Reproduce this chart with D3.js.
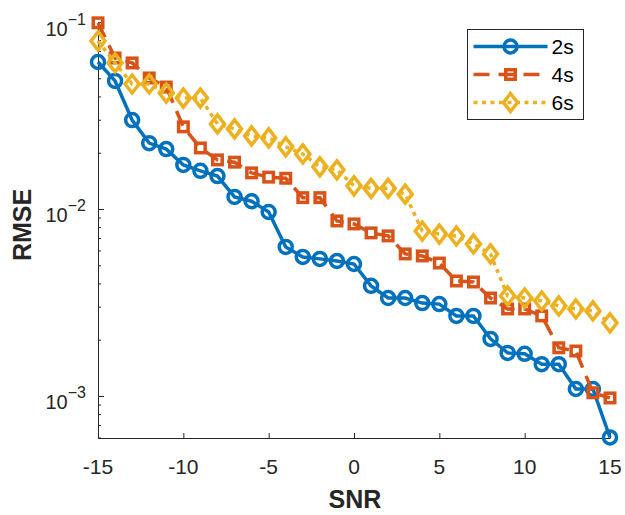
<!DOCTYPE html>
<html>
<head>
<meta charset="utf-8">
<script src="https://cdn.jsdelivr.net/npm/d3@7"></script>
<style>
  body { margin: 0; background: #fff; }
  svg { display: block; font-family: "Liberation Sans", Arial, sans-serif; }
</style>
</head>
<body>
<svg id="chart" width="625" height="515"></svg>
<script>
// Data
const snr = d3.range(-15, 16);

const rmse2s = [0.0611, 0.0484, 0.0299, 0.0225, 0.0209, 0.0172, 0.0160, 0.0150, 0.0116, 0.0110,
  0.00964, 0.00627, 0.00554, 0.00541, 0.00527, 0.00508, 0.00388, 0.00334, 0.00334, 0.00314,
  0.00310, 0.00268, 0.00268, 0.00202, 0.00170, 0.00168, 0.00148, 0.00148, 0.00109, 0.00109, 0.000600];

const rmse4s = [0.0990, 0.0642, 0.0604, 0.0502, 0.0449, 0.0275, 0.0212, 0.0183, 0.0178, 0.0156,
  0.0148, 0.0146, 0.0115, 0.0115, 0.00863, 0.00832, 0.00745, 0.00718, 0.00575, 0.00561,
  0.00514, 0.00412, 0.00407, 0.00334, 0.00292, 0.00292, 0.00268, 0.00181, 0.00174, 0.00104, 0.000976];

const rmse6s = [0.0791, 0.0604, 0.0466, 0.0466, 0.0417, 0.0392, 0.0392, 0.0285, 0.0268, 0.0246,
  0.0240, 0.0215, 0.0197, 0.0168, 0.0162, 0.0133, 0.0129, 0.0129, 0.0120, 0.00762,
  0.00734, 0.00717, 0.00650, 0.00575, 0.00343, 0.00334, 0.00322, 0.00303, 0.00292, 0.00285, 0.00246];

const seriesNames = ["2s", "4s", "6s"];
const xTicks = [-15, -10, -5, 0, 5, 10, 15];
const yMajor = [1e-3, 1e-2, 1e-1];
const yExp = [-3, -2, -1];

// Series styling (MATLAB default colours)
const series = [
  { name: seriesNames[0], values: rmse2s, color: "#0072BD", dash: null, marker: "circle" },
  { name: seriesNames[1], values: rmse4s, color: "#D95319", dash: "16,9", marker: "square" },
  { name: seriesNames[2], values: rmse6s, color: "#EDB120", dash: "4,4.5", marker: "diamond" }
];

const svg = d3.select("#chart");
const axisColor = "#262626";

const xScale = d3.scaleLinear().domain([-15, 15]).range([98, 610]);
const yScale = d3.scaleLog().domain([0.000596, 0.1]).range([438, 22]);

// Minor log ticks: 2..9 per decade inside the domain
const yMinor = [];
[1e-4, 1e-3, 1e-2].forEach(dec => {
  d3.range(2, 10).forEach(m => {
    const v = m * dec;
    if (v >= yScale.domain()[0] && v <= yScale.domain()[1]) yMinor.push(v);
  });
});

// X axis (ticks pointing inward)
const xAxisG = svg.append("g")
  .attr("transform", `translate(0, ${yScale.range()[0]})`)
  .call(d3.axisBottom(xScale).tickValues(xTicks).tickSizeInner(-5).tickSizeOuter(0).tickFormat(""));
xAxisG.select(".domain").attr("stroke", axisColor).attr("stroke-width", 1);
xAxisG.selectAll(".tick line").attr("stroke", axisColor);

svg.append("g").selectAll("text")
  .data(xTicks)
  .join("text")
    .attr("x", d => xScale(d))
    .attr("y", 474)
    .attr("text-anchor", "middle")
    .attr("font-size", 21)
    .attr("fill", axisColor)
    .text(d => d);

// Y axis (log, minor + major ticks pointing inward)
const yAxisG = svg.append("g")
  .attr("transform", `translate(${xScale.range()[0]}, 0)`)
  .call(d3.axisLeft(yScale).tickValues(yMajor.concat(yMinor)).tickSizeInner(-3).tickSizeOuter(0).tickFormat(""));
yAxisG.select(".domain").attr("stroke", axisColor).attr("stroke-width", 1);
yAxisG.selectAll(".tick line")
  .attr("stroke", axisColor)
  .attr("x2", d => yMajor.includes(d) ? 6 : 3);

// 10^n labels, superscript uses a real minus sign like MATLAB's tex
const yLabels = svg.append("g").selectAll("text")
  .data(yMajor)
  .join("text")
    .attr("x", 86)
    .attr("y", d => yScale(d) + 13.5)
    .attr("text-anchor", "end")
    .attr("fill", axisColor);
yLabels.append("tspan").attr("font-size", 20).text("10");
yLabels.append("tspan")
  .attr("font-size", 16)
  .attr("dy", -11)
  .text((d, i) => `\u2212${-yExp[i]}`);

// Axis titles
svg.append("text")
  .attr("x", 355).attr("y", 508)
  .attr("text-anchor", "middle")
  .attr("font-size", 25).attr("font-weight", "bold")
  .attr("fill", axisColor)
  .text("SNR");

svg.append("text")
  .attr("transform", "translate(31, 225) rotate(-90)")
  .attr("text-anchor", "middle")
  .attr("font-size", 25).attr("font-weight", "bold")
  .attr("fill", axisColor)
  .text("RMSE");

// Marker drawing helper
function drawMarker(sel, type, color) {
  if (type === "circle") {
    sel.append("circle").attr("r", 6.5);
  } else if (type === "square") {
    sel.append("rect").attr("x", -4.75).attr("y", -4.75).attr("width", 9.5).attr("height", 9.5);
  } else {
    sel.append("path").attr("d", "M0,-9L7,0L0,9L-7,0Z");
  }
  sel.selectAll("circle, rect, path")
    .attr("fill", "none")
    .attr("stroke", color)
    .attr("stroke-width", 3.5);
}

const line = d3.line()
  .x((d, i) => xScale(snr[i]))
  .y(d => yScale(d));

// Lines + markers, blue first so yellow lands on top
series.forEach(s => {
  const g = svg.append("g");
  g.append("path")
    .attr("d", line(s.values))
    .attr("fill", "none")
    .attr("stroke", s.color)
    .attr("stroke-width", 3.5)
    .attr("stroke-dasharray", s.dash);

  g.selectAll(".mk")
    .data(s.values)
    .join("g")
      .attr("class", "mk")
      .attr("transform", (d, i) => `translate(${xScale(snr[i])}, ${yScale(d)})`)
      .each(function () { drawMarker(d3.select(this), s.marker, s.color); });
});

// Legend
const legend = svg.append("g").attr("transform", "translate(467.5, 29.5)");
legend.append("rect")
  .attr("width", 116).attr("height", 90)
  .attr("fill", "#fff")
  .attr("stroke", axisColor)
  .attr("stroke-width", 1);

const rows = legend.selectAll(".row")
  .data(series)
  .join("g")
    .attr("class", "row")
    .attr("transform", (d, i) => `translate(0, ${17 + i * 28})`);

rows.append("line")
  .attr("x1", 6).attr("x2", 80)
  .attr("stroke", d => d.color)
  .attr("stroke-width", 3.5)
  .attr("stroke-dasharray", d => d.dash);

rows.append("g")
  .attr("transform", "translate(43, 0)")
  .each(function (d) { drawMarker(d3.select(this), d.marker, d.color); });

rows.append("text")
  .attr("x", 84).attr("y", 7.5)
  .attr("font-size", 21)
  .attr("fill", "#000")
  .text(d => d.name);
</script>
</body>
</html>
